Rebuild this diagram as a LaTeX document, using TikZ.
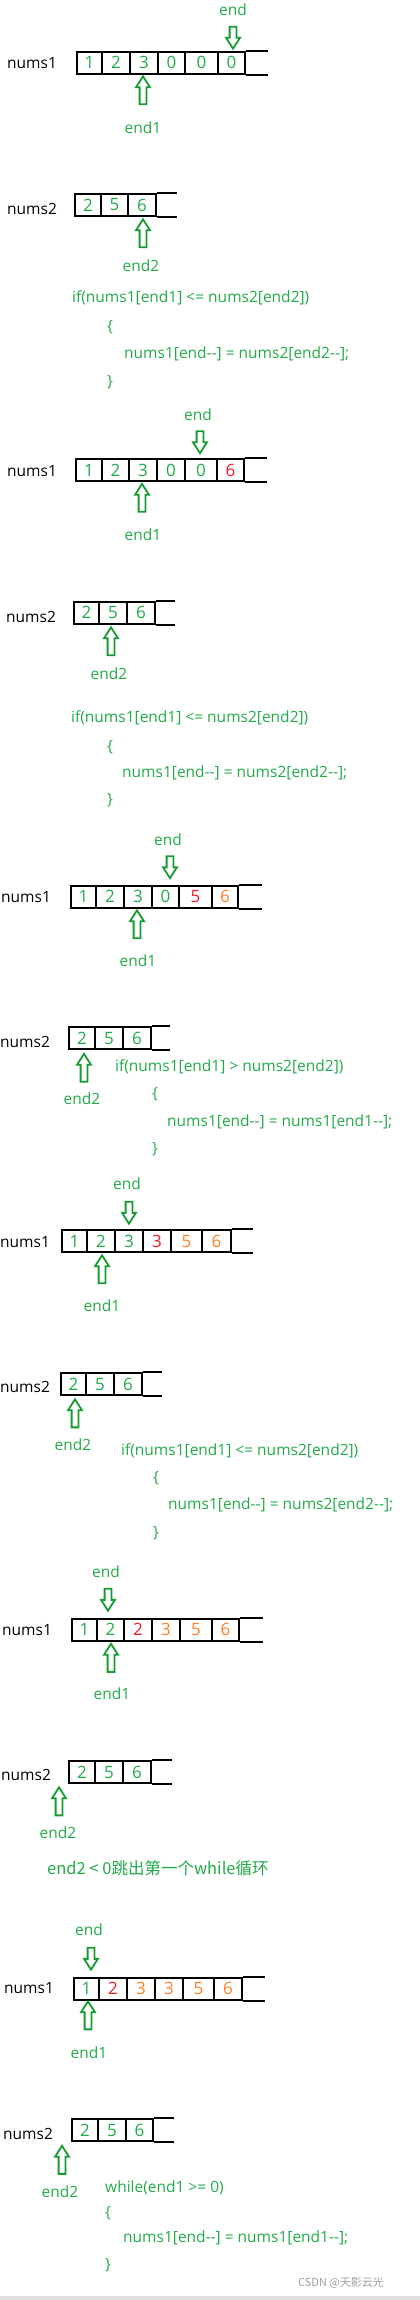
\documentclass[tikz,border=0pt]{standalone}
\usepackage{fontspec}
\setmainfont{Open Sans}
\newfontfamily\cjk{Noto Sans CJK SC}
\usetikzlibrary{shapes.arrows}
\definecolor{grn}{RGB}{34,170,72}
\definecolor{arrgrn}{RGB}{24,155,50}
\definecolor{redd}{RGB}{237,28,36}
\definecolor{org}{RGB}{255,127,39}

\begin{document}
\begin{tikzpicture}[x=1pt,y=-1pt,
    txt/.style={font=\fontsize{15.5}{18}\selectfont,inner sep=0pt},
    gtxt/.style={txt,text=grn},
    code/.style={gtxt,anchor=west},
    cell/.style={draw,line width=2pt,minimum height=22pt,inner sep=0pt,font=\fontsize{17}{20}\selectfont},
    frame/.style={line width=2pt},
    uparr/.style={single arrow,draw=arrgrn,line width=1.8pt,fill=white,inner sep=2.5pt,
      single arrow head extend=3.5pt,single arrow tip angle=65,minimum height=28pt,shape border rotate=90},
    dnarr/.style={uparr,minimum height=22pt,shape border rotate=270}]
  \useasboundingbox (0,0) rectangle (420,2300);

  % step 1
  \node[gtxt] (s1end) at (233,10) {end};
  \node[dnarr] (s1enda) at (233,35) {};
  \node[txt,anchor=west] (s1n1) at (7,63) {nums1};
  \foreach \xa/\xb/\v/\c [count=\i] in {77/102/1/grn,102/130/2/grn,130/158/3/grn,158/185/0/grn,185/218/0/grn,218/245/0/grn}
    \node[cell,text=\c,minimum width={(\xb-\xa)*1pt}] (s1a\i) at ({(\xa+\xb)/2},62.5) {\v};
  \draw[frame] (s1a6.north east) -- ++(22,0) (s1a6.south east) -- ++(22,0);
  \node[uparr] (s1e1a) at (143,93) {};
  \node[gtxt] (s1e1) at (143,128) {end1};
  \node[txt,anchor=west] (s1n2) at (7,209) {nums2};
  \foreach \xa/\xb/\v [count=\i] in {75/101/2,101/128/5,128/156/6}
    \node[cell,text=grn,minimum width={(\xb-\xa)*1pt}] (s1b\i) at ({(\xa+\xb)/2},205) {\v};
  \draw[frame] (s1b3.north east) -- ++(20,0) (s1b3.south east) -- ++(20,0);
  \node[uparr] (s1e2a) at (143,236) {};
  \node[gtxt] (s1e2) at (141,266) {end2};
  \node[code] (s1c1) at (72,298) {if(nums1[end1] <= nums2[end2])};
  \node[code] (s1c2) at (107,327) {\{};
  \node[code] (s1c3) at (124,354) {nums1[end-{}-] = nums2[end2-{}-];};
  \node[code] (s1c4) at (107,382) {\}};

  % step 2
  \node[gtxt] (s2end) at (198,415) {end};
  \node[dnarr] (s2enda) at (200,439.5) {};
  \node[txt,anchor=west] (s2n1) at (7,471) {nums1};
  \foreach \xa/\xb/\v/\c [count=\i] in {76/102/1/grn,102/129/2/grn,129/157/3/grn,157/185/0/grn,185/217/0/grn,217/244/6/redd}
    \node[cell,text=\c,minimum width={(\xb-\xa)*1pt}] (s2a\i) at ({(\xa+\xb)/2},470) {\v};
  \draw[frame] (s2a6.north east) -- ++(22,0) (s2a6.south east) -- ++(22,0);
  \node[uparr] (s2e1a) at (142,500.5) {};
  \node[gtxt] (s2e1) at (143,535) {end1};
  \node[txt,anchor=west] (s2n2) at (6,617) {nums2};
  \foreach \xa/\xb/\v [count=\i] in {74/99/2,99/127/5,127/155/6}
    \node[cell,text=grn,minimum width={(\xb-\xa)*1pt}] (s2b\i) at ({(\xa+\xb)/2},612.5) {\v};
  \draw[frame] (s2b3.north east) -- ++(19,0) (s2b3.south east) -- ++(19,0);
  \node[uparr] (s2e2a) at (111,644) {};
  \node[gtxt] (s2e2) at (109,674) {end2};
  \node[code] (s2c1) at (71,718) {if(nums1[end1] <= nums2[end2])};
  \node[code] (s2c2) at (107,747) {\{};
  \node[code] (s2c3) at (122,773) {nums1[end-{}-] = nums2[end2-{}-];};
  \node[code] (s2c4) at (107,800) {\}};

  % step 3
  \node[gtxt] (s3end) at (168,840) {end};
  \node[dnarr] (s3enda) at (170,864.5) {};
  \node[txt,anchor=west] (s3n1) at (1,897) {nums1};
  \foreach \xa/\xb/\v/\c [count=\i] in {71/96/1/grn,96/124/2/grn,124/152/3/grn,152/179/0/grn,179/212/5/redd,212/238/6/org}
    \node[cell,text=\c,minimum width={(\xb-\xa)*1pt}] (s3a\i) at ({(\xa+\xb)/2},896.5) {\v};
  \draw[frame] (s3a6.north east) -- ++(23,0) (s3a6.south east) -- ++(23,0);
  \node[uparr] (s3e1a) at (137,927) {};
  \node[gtxt] (s3e1) at (138,961) {end1};
  \node[txt,anchor=west] (s3n2) at (0,1042) {nums2};
  \foreach \xa/\xb/\v [count=\i] in {69/95/2,95/123/5,123/151/6}
    \node[cell,text=grn,minimum width={(\xb-\xa)*1pt}] (s3b\i) at ({(\xa+\xb)/2},1038) {\v};
  \draw[frame] (s3b3.north east) -- ++(18,0) (s3b3.south east) -- ++(18,0);
  \node[uparr] (s3e2a) at (84,1070.5) {};
  \node[gtxt] (s3e2) at (82,1099) {end2};
  \node[code] (s3c1) at (115,1067) {if(nums1[end1] > nums2[end2])};
  \node[code] (s3c2) at (152,1094) {\{};
  \node[code] (s3c3) at (167,1122) {nums1[end-{}-] = nums1[end1-{}-];};
  \node[code] (s3c4) at (152,1149) {\}};

  % step 4
  \node[gtxt] (s4end) at (127,1184) {end};
  \node[dnarr] (s4enda) at (129,1210) {};
  \node[txt,anchor=west] (s4n1) at (0,1242) {nums1};
  \foreach \xa/\xb/\v/\c [count=\i] in {62/87/1/grn,87/115/2/grn,115/143/3/grn,143/171/3/redd,171/202/5/org,202/231/6/org}
    \node[cell,text=\c,minimum width={(\xb-\xa)*1pt}] (s4a\i) at ({(\xa+\xb)/2},1241) {\v};
  \draw[frame] (s4a6.north east) -- ++(21,0) (s4a6.south east) -- ++(21,0);
  \node[uparr] (s4e1a) at (102,1272) {};
  \node[gtxt] (s4e1) at (102,1306) {end1};
  \node[txt,anchor=west] (s4n2) at (0,1387) {nums2};
  \foreach \xa/\xb/\v [count=\i] in {61/86/2,86/114/5,114/142/6}
    \node[cell,text=grn,minimum width={(\xb-\xa)*1pt}] (s4b\i) at ({(\xa+\xb)/2},1384) {\v};
  \draw[frame] (s4b3.north east) -- ++(19,0) (s4b3.south east) -- ++(19,0);
  \node[uparr] (s4e2a) at (75,1416) {};
  \node[gtxt] (s4e2) at (73,1445) {end2};
  \node[code] (s4c1) at (121,1451) {if(nums1[end1] <= nums2[end2])};
  \node[code] (s4c2) at (153,1478) {\{};
  \node[code] (s4c3) at (168,1505) {nums1[end-{}-] = nums2[end2-{}-];};
  \node[code] (s4c4) at (153,1533) {\}};

  % step 5
  \node[gtxt] (s5end) at (106,1572) {end};
  \node[dnarr] (s5enda) at (108,1597) {};
  \node[txt,anchor=west] (s5n1) at (2,1630) {nums1};
  \foreach \xa/\xb/\v/\c [count=\i] in {72/97/1/grn,97/124/2/grn,124/152/2/redd,152/180/3/org,180/212/5/org,212/239/6/org}
    \node[cell,text=\c,minimum width={(\xb-\xa)*1pt}] (s5a\i) at ({(\xa+\xb)/2},1629.5) {\v};
  \draw[frame] (s5a6.north east) -- ++(23,0) (s5a6.south east) -- ++(23,0);
  \node[uparr] (s5e1a) at (111,1660.5) {};
  \node[gtxt] (s5e1) at (112,1694) {end1};
  \node[txt,anchor=west] (s5n2) at (1,1775) {nums2};
  \foreach \xa/\xb/\v [count=\i] in {69/95/2,95/123/5,123/151/6}
    \node[cell,text=grn,minimum width={(\xb-\xa)*1pt}] (s5b\i) at ({(\xa+\xb)/2},1772) {\v};
  \draw[frame] (s5b3.north east) -- ++(20,0) (s5b3.south east) -- ++(20,0);
  \node[uparr] (s5e2a) at (59,1804) {};
  \node[gtxt] (s5e2) at (58,1833) {end2};
  \node[code,font=\cjk\fontsize{16.5}{19}\selectfont] (s5note) at (47,1868) {end2 < 0跳出第一个while循环};

  % step 6
  \node[gtxt] (s6end) at (89,1930) {end};
  \node[dnarr] (s6enda) at (91,1956) {};
  \node[txt,anchor=west] (s6n1) at (4,1988) {nums1};
  \foreach \xa/\xb/\v/\c [count=\i] in {74/99/1/grn,99/127/2/redd,127/155/3/org,155/183/3/org,183/214/5/org,214/242/6/org}
    \node[cell,text=\c,minimum width={(\xb-\xa)*1pt}] (s6a\i) at ({(\xa+\xb)/2},1988.5) {\v};
  \draw[frame] (s6a6.north east) -- ++(22,0) (s6a6.south east) -- ++(22,0);
  \node[uparr] (s6e1a) at (88,2018) {};
  \node[gtxt] (s6e1) at (89,2053) {end1};
  \node[txt,anchor=west] (s6n2) at (3,2134) {nums2};
  \foreach \xa/\xb/\v [count=\i] in {72/98/2,98/126/5,126/153/6}
    \node[cell,text=grn,minimum width={(\xb-\xa)*1pt}] (s6b\i) at ({(\xa+\xb)/2},2130) {\v};
  \draw[frame] (s6b3.north east) -- ++(20,0) (s6b3.south east) -- ++(20,0);
  \node[uparr] (s6e2a) at (62,2162.5) {};
  \node[gtxt] (s6e2) at (60,2192) {end2};
  \node[code] (s6c1) at (105,2188) {while(end1 >= 0)};
  \node[code] (s6c2) at (105,2213) {\{};
  \node[code] (s6c3) at (123,2238) {nums1[end-{}-] = nums1[end1-{}-];};
  \node[code] (s6c4) at (105,2265) {\}};

  \node[font=\cjk\fontsize{11}{13}\selectfont,text=gray!75,anchor=west,inner sep=0pt] (wm) at (298,2283) {CSDN @天影云光};
  \fill[gray!25] (0,2296) rectangle (420,2300);
\end{tikzpicture}
\end{document}
